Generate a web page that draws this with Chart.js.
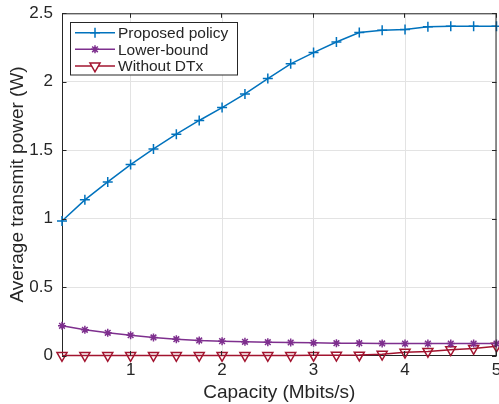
<!DOCTYPE html>
<html>
<head>
<meta charset="utf-8">
<script src="https://cdn.jsdelivr.net/npm/chart.js@4.4.1/dist/chart.umd.min.js"></script>
<style>
html,body{margin:0;padding:0;background:#fff;overflow:hidden;width:499px;height:404px;}
#c{display:block;}
</style>
</head>
<body>
<canvas id="c" width="510" height="404"></canvas>
<script>
const capacity = [0.25, 0.5, 0.75, 1.0, 1.25, 1.5, 1.75, 2.0, 2.25, 2.5, 2.75, 3.0, 3.25, 3.5, 3.75, 4.0, 4.25, 4.5, 4.75, 5.0];
const proposedPolicy = [0.983, 1.137, 1.268, 1.395, 1.509, 1.617, 1.717, 1.811, 1.911, 2.023, 2.131, 2.213, 2.290, 2.360, 2.377, 2.382, 2.401, 2.406, 2.406, 2.406];
const lowerBound = [0.217, 0.188, 0.166, 0.148, 0.132, 0.119, 0.110, 0.105, 0.100, 0.097, 0.095, 0.093, 0.090, 0.090, 0.088, 0.087, 0.087, 0.087, 0.087, 0.087];
const withoutDTx = [0.0, 0.0, 0.0, 0.0, 0.0, 0.0, 0.0, 0.0, 0.0, 0.0, 0.0, 0.001, 0.002, 0.003, 0.009, 0.024, 0.030, 0.042, 0.051, 0.068];
const xTicks = [1, 2, 3, 4, 5];
const yTicks = [0, 0.5, 1, 1.5, 2, 2.5];
const seriesNames = ['Proposed policy', 'Lower-bound', 'Without DTx'];

const FONT = "'Liberation Sans', Arial, Helvetica, sans-serif";
const AX = '#262626';
const COLORS = ['#0072BD', '#7E2F8E', '#A2142F'];

function pts(ys){ return capacity.map((x,i)=>({x:x, y:ys[i]})); }

const styles = [
  {pointStyle:'cross', radius:5, rotation:0, bw:1.5},
  {pointStyle:'star', radius:4, rotation:0, bw:1.5},
  {pointStyle:'triangle', radius:5.8, rotation:180, bw:1.5}
];

const datasets = [proposedPolicy, lowerBound, withoutDTx].map((d,i)=>({
  label: seriesNames[i],
  data: pts(d),
  borderColor: COLORS[i],
  backgroundColor: i===2 ? 'rgba(255,255,255,0)' : COLORS[i],
  borderWidth: 1.5,
  pointStyle: styles[i].pointStyle,
  pointRadius: styles[i].radius,
  pointRotation: styles[i].rotation,
  pointBorderWidth: styles[i].bw,
  pointBorderColor: COLORS[i],
  pointBackgroundColor: i===2 ? 'rgba(255,255,255,0)' : COLORS[i],
  tension: 0,
  clip: false
}));

function drawMarker(ctx, style, r, rot, x, y){
  ctx.save();
  ctx.translate(x, y);
  ctx.rotate(rot * Math.PI / 180);
  ctx.beginPath();
  if (style === 'cross') {
    ctx.moveTo(-r, 0); ctx.lineTo(r, 0);
    ctx.moveTo(0, -r); ctx.lineTo(0, r);
    ctx.stroke();
  } else if (style === 'star') {
    ctx.moveTo(-r, 0); ctx.lineTo(r, 0);
    ctx.moveTo(0, -r); ctx.lineTo(0, r);
    const d = r * Math.SQRT1_2;
    ctx.moveTo(-d, -d); ctx.lineTo(d, d);
    ctx.moveTo(-d, d); ctx.lineTo(d, -d);
    ctx.stroke();
  } else if (style === 'triangle') {
    for (let k=0;k<3;k++){
      const ang = k * 2 * Math.PI / 3;
      const px = Math.sin(ang) * r, py = -Math.cos(ang) * r;
      if (k===0) ctx.moveTo(px, py); else ctx.lineTo(px, py);
    }
    ctx.closePath();
    ctx.fill();
    ctx.stroke();
  }
  ctx.restore();
}

const framePlugin = {
  id: 'frame',
  afterDatasetsDraw(chart){
    const ctx = chart.ctx, a = chart.chartArea;
    const xs = chart.scales.x, ys = chart.scales.y;
    ctx.save();
    ctx.strokeStyle = AX;
    ctx.lineWidth = 1;
    ctx.beginPath();
    ctx.moveTo(a.left, a.top + 0.5); ctx.lineTo(a.right, a.top + 0.5);
    ctx.moveTo(a.right - 0.5, a.top); ctx.lineTo(a.right - 0.5, a.bottom);
    yTicks.forEach(v=>{
      const y = Math.round(ys.getPixelForValue(v)) + 0.5;
      ctx.moveTo(a.left, y); ctx.lineTo(a.left + 4.5, y);
      ctx.moveTo(a.right, y); ctx.lineTo(a.right - 4.5, y);
    });
    xTicks.forEach(v=>{
      const x = Math.round(xs.getPixelForValue(v)) - 0.5;
      ctx.moveTo(x, a.bottom); ctx.lineTo(x, a.bottom - 4.5);
      ctx.moveTo(x, a.top); ctx.lineTo(x, a.top + 4.5);
    });
    ctx.stroke();

    // legend
    const bx = 70.5, by = 22.5, bw = 167, bh = 52.5;
    ctx.fillStyle = '#fff';
    ctx.fillRect(bx, by, bw, bh);
    ctx.strokeStyle = AX;
    ctx.lineWidth = 1;
    ctx.strokeRect(bx, by, bw, bh);
    const rows = [32.7, 49.3, 66];
    ctx.font = "15.5px " + FONT;
    ctx.textBaseline = 'middle';
    ctx.textAlign = 'left';
    chart.data.datasets.forEach((ds, i)=>{
      const y = rows[i];
      ctx.strokeStyle = ds.borderColor;
      ctx.lineWidth = 1.5;
      ctx.beginPath();
      ctx.moveTo(75, y); ctx.lineTo(115, y);
      ctx.stroke();
      ctx.fillStyle = i===2 ? '#fff' : ds.borderColor;
      ctx.strokeStyle = ds.borderColor;
      ctx.lineWidth = ds.pointBorderWidth;
      drawMarker(ctx, ds.pointStyle, ds.pointRadius, ds.pointRotation, 95, y);
      ctx.fillStyle = AX;
      ctx.fillText(ds.label, 118, y + 1);
    });
    ctx.restore();
  }
};

new Chart(document.getElementById('c'), {
  type: 'line',
  data: { datasets: datasets },
  plugins: [framePlugin],
  options: {
    responsive: false,
    animation: false,
    devicePixelRatio: 1,
    layout: { padding: { left: 0, right: 13.5, top: 13.3, bottom: 0 } },
    plugins: { legend: { display: false }, tooltip: { enabled: false } },
    elements: { line: { tension: 0 } },
    scales: {
      x: {
        type: 'linear',
        min: 0.25, max: 5,
        afterBuildTicks(s){ s.ticks = xTicks.map(v=>({value:v})); },
        afterFit(s){ s.height = 48.5; },
        grid: { color: '#e3e3e3', lineWidth: 1, drawTicks: false },
        border: { display: true, color: AX, width: 1 },
        ticks: { color: AX, font: { family: FONT, size: 17 }, padding: 5, maxRotation: 0, autoSkip: false, callback: v => String(v) },
        title: { display: true, text: 'Capacity (Mbits/s)', color: AX, font: { family: FONT, size: 19 }, padding: { top: 4, bottom: 0 } }
      },
      y: {
        type: 'linear',
        min: 0, max: 2.5,
        afterBuildTicks(s){ s.ticks = yTicks.map(v=>({value:v})); },
        afterFit(s){ s.width = 62; s.paddingTop = 0; s.paddingBottom = 0; },
        grid: { color: '#e3e3e3', lineWidth: 1, drawTicks: false },
        border: { display: true, color: AX, width: 1 },
        ticks: { color: AX, font: { family: FONT, size: 17 }, padding: 9, callback: v => String(v) },
        title: { display: true, text: 'Average transmit power (W)', color: AX, font: { family: FONT, size: 19 }, padding: { top: 6, bottom: 0 } }
      }
    }
  }
});
</script>
</body>
</html>
